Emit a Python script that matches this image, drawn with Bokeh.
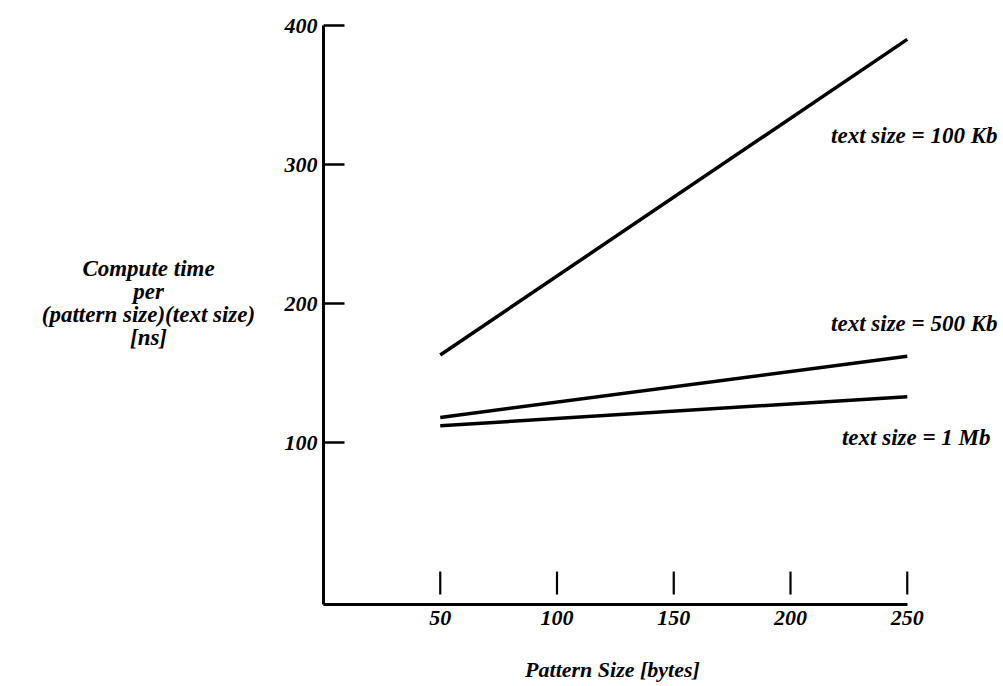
from bokeh.plotting import figure
from bokeh.models import Range1d, FixedTicker, LinearAxis
from bokeh.core.properties import value
from bokeh.embed import file_html
from bokeh.resources import INLINE

# ---- data ----
pattern_size = [50, 250]
series_names = ["text size = 100 Kb", "text size = 500 Kb", "text size = 1 Mb"]
time_100kb = [163, 390]
time_500kb = [118, 162]
time_1mb = [112, 133]
x_ticks = [50, 100, 150, 200, 250]
y_ticks = [100, 200, 300, 400]
y_label_lines = ["Compute time", "per", "(pattern size)(text size)", "[ns]"]
x_title = "Pattern Size [bytes]"

FONT = "Liberation Serif"
STYLE = "bold italic"
W, H = 1000, 684
# screen mapping helpers (used only to choose the view ranges)
PX0, PXU = 323.0, 2.335      # pixel of x=0, pixels per x unit
PY0, PYU = 581.0, 1.39       # pixel of y=0, pixels per y unit
X0, X1 = -PX0 / PXU, (W - PX0) / PXU
Y0, Y1 = (PY0 - H) / PYU, PY0 / PYU
AXIS_Y = (PY0 - 604) / PYU   # where the x axis sits

p = figure(width=W, height=H, output_backend="svg", toolbar_location=None, title=None,
           x_range=Range1d(X0, X1), y_range=Range1d(Y0, Y1),
           x_axis_location=None, y_axis_location=None,
           min_border_left=0, min_border_right=0, min_border_top=0, min_border_bottom=0)
p.outline_line_color = None
p.grid.visible = False
p.background_fill_color = "white"
p.border_fill_color = "white"

# y axis, drawn at x = 0
ya = LinearAxis(fixed_location=0, ticker=FixedTicker(ticks=y_ticks), bounds=(AXIS_Y, 400))
ya.axis_line_width = 3
ya.axis_line_color = "black"
ya.major_tick_in = 21
ya.major_tick_out = 0
ya.major_tick_line_width = 2.5
ya.minor_tick_line_color = None
ya.major_label_standoff = 6
ya.major_label_text_font = FONT
ya.major_label_text_font_style = STYLE
ya.major_label_text_font_size = "22px"
ya.major_label_text_color = "black"
p.add_layout(ya, "left")

# x axis, drawn at the bottom of the data area
xa = LinearAxis(fixed_location=AXIS_Y, ticker=FixedTicker(ticks=x_ticks), bounds=(0, 250))
xa.axis_line_width = 3
xa.axis_line_color = "black"
xa.major_tick_in = 0
xa.major_tick_out = 0
xa.minor_tick_line_color = None
xa.major_label_standoff = 6
xa.major_label_text_font = FONT
xa.major_label_text_font_style = STYLE
xa.major_label_text_font_size = "22px"
xa.major_label_text_color = "black"
p.add_layout(xa, "below")

# detached x tick marks above the axis
tick_lo, tick_hi = AXIS_Y + 7.2, AXIS_Y + 23.7
p.segment(x0=x_ticks, y0=[tick_lo] * len(x_ticks), x1=x_ticks, y1=[tick_hi] * len(x_ticks),
          line_color="black", line_width=2.2)

# series lines
for ys in (time_100kb, time_500kb, time_1mb):
    p.line(pattern_size, ys, line_color="black", line_width=3.5)

# series labels (right-aligned at the right edge)
lab_x = (997 - PX0) / PXU
p.text(x=[lab_x, lab_x, lab_x - 3], y=[(PY0 - 135) / PYU, (PY0 - 323) / PYU, (PY0 - 437) / PYU],
       text=series_names, text_font=value(FONT), text_font_style=STYLE, text_font_size="23px",
       text_align="right", text_baseline="middle", text_color="black")

# y title, horizontal, four centred lines
ly = [(PY0 - py) / PYU for py in (268, 291, 314, 337)]
p.text(x=[(148 - PX0) / PXU] * 4, y=ly, text=y_label_lines,
       text_font=value(FONT), text_font_style=STYLE, text_font_size="23px",
       text_align="center", text_baseline="middle", text_color="black")

# x title
p.text(x=[(612 - PX0) / PXU], y=[(PY0 - 669) / PYU], text=[x_title],
       text_font=value(FONT), text_font_style=STYLE, text_font_size="22px",
       text_align="center", text_baseline="middle", text_color="black")

open("out.html", "w").write(file_html(p, INLINE))
